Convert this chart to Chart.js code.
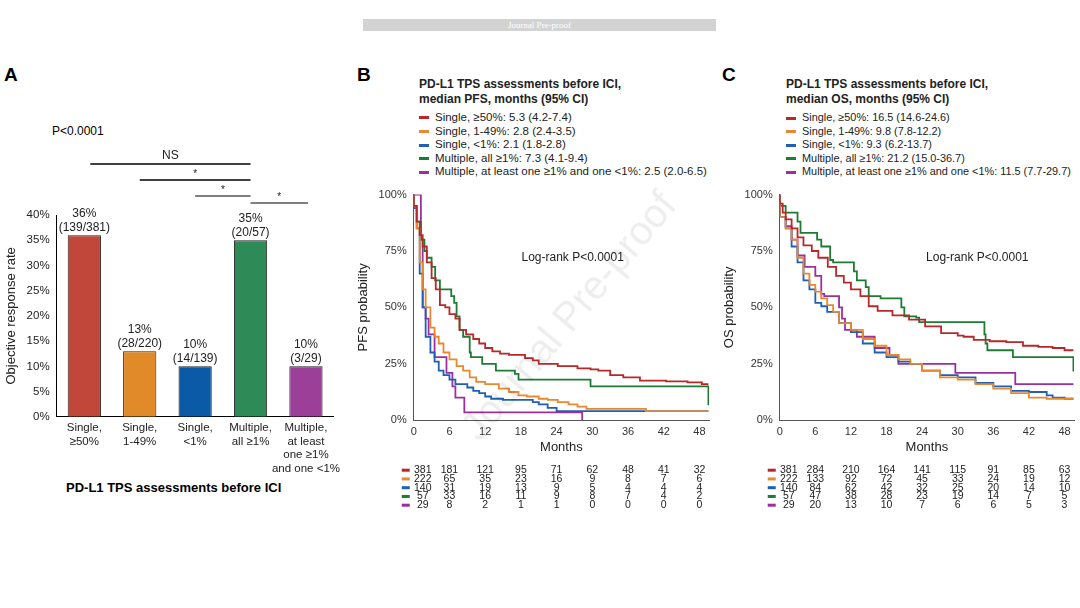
<!DOCTYPE html>
<html>
<head>
<meta charset="utf-8">
<script src="https://cdn.jsdelivr.net/npm/chart.js@4.4.1/dist/chart.umd.min.js"></script>
<style>
  body { margin: 0; width: 1080px; height: 608px; background: #fff; font-family: "Liberation Sans", Arial, sans-serif; position: relative; overflow: hidden; }
  .abs { position: absolute; }
  .panel { font-weight: bold; font-size: 19px; }
  .leg { font-size: 11.5px; color: #222; line-height: 13.6px; white-space: nowrap; }
  .leg b { font-size: 12px; line-height: 15px; display: block; margin-bottom: 4px; }
  .sw { display: inline-block; width: 10px; height: 3px; margin-right: 6px; vertical-align: middle; }
</style>
</head>
<body>
<div class="abs" style="left:363px;top:19px;width:353px;height:12px;background:#d3d3d3;color:#fff;font-size:9px;text-align:center;line-height:12px;font-family:'Liberation Serif',serif;">Journal Pre-proof</div>
<div class="abs panel" style="left:4px;top:64px;">A</div>
<div class="abs panel" style="left:357px;top:64px;">B</div>
<div class="abs panel" style="left:722px;top:64px;">C</div>
<div class="abs" style="left:52px;top:124px;font-size:12px;">P&lt;0.0001</div>
<div class="abs" style="left:66px;top:480px;font-size:13px;font-weight:bold;">PD-L1 TPS assessments before ICI</div>

<div class="abs" style="left:0;top:140px;width:345px;height:340px;"><canvas id="barChart"></canvas></div>
<div class="abs" style="left:352px;top:185px;width:363px;height:335px;"><canvas id="pfsChart"></canvas></div>
<div class="abs" style="left:718px;top:185px;width:362px;height:335px;"><canvas id="osChart"></canvas></div>

<div class="abs" style="left:452px;top:420px;font-size:40px;color:rgba(0,0,0,0.07);transform:rotate(-50deg);transform-origin:left top;white-space:nowrap;">Journal Pre-proof</div>

<div class="abs leg" style="left:419px;top:77px;" id="legB"></div>
<div class="abs leg" style="left:786px;top:77px;font-size:10.9px;" id="legC"></div>

<script>
// ---- data ----
const barLabels = [["Single,", "≥50%"], ["Single,", "1-49%"], ["Single,", "<1%"], ["Multiple,", "all ≥1%"], ["Multiple,", "at least", "one ≥1%", "and one <1%"]];
const orrValues = [36, 13, 10, 35, 10];
const orrCounts = ["(139/381)", "(28/220)", "(14/139)", "(20/57)", "(3/29)"];
const barColors = ["#c0473a", "#e08a2a", "#0a5aa8", "#2e8b57", "#9b3f98"];
const lineColors = ["#b8282a", "#e8892f", "#1f5fb5", "#1e7b34", "#9a2f9e"];

const groupNames = ["Single, ≥50%", "Single, 1-49%", "Single, <1%", "Multiple, all ≥1%", "Multiple, at least one ≥1% and one <1%"];
const pfsMedians = ["5.3 (4.2-7.4)", "2.8 (2.4-3.5)", "2.1 (1.8-2.8)", "7.3 (4.1-9.4)", "2.5 (2.0-6.5)"];
const osMedians = ["16.5 (14.6-24.6)", "9.8 (7.8-12.2)", "9.3 (6.2-13.7)", "21.2 (15.0-36.7)", "11.5 (7.7-29.7)"];

const riskMonths = [0, 6, 12, 18, 24, 30, 36, 42, 48];
const pfsRisk = [
  [381, 181, 121, 95, 71, 62, 48, 41, 32],
  [222, 65, 35, 23, 16, 9, 8, 7, 6],
  [140, 31, 19, 13, 9, 5, 4, 4, 4],
  [57, 33, 16, 11, 9, 8, 7, 4, 2],
  [29, 8, 2, 1, 1, 0, 0, 0, 0]
];
const osRisk = [
  [381, 284, 210, 164, 141, 115, 91, 85, 63],
  [222, 133, 92, 72, 45, 33, 24, 19, 12],
  [140, 84, 62, 42, 32, 25, 20, 14, 10],
  [57, 47, 38, 28, 23, 19, 14, 7, 5],
  [29, 20, 13, 10, 7, 6, 6, 5, 3]
];

// KM curves: [month, survival %]
const pfsRed = [[0,100],[0.5,95],[1,88],[1.5,82],[2.2,77],[3,70],[3.7,63],[4.4,58],[5.3,51],[6,50],[7,47],[7.7,45],[8.8,40],[10,38],[11,36],[12,34],[13.2,32],[14.5,30.5],[16,29.5],[18.7,29],[20,27.5],[21,26.5],[24.2,25],[27.5,24],[29.7,23],[31,22.5],[33,22],[35.2,20],[38,19],[42.4,17.5],[46,17.2],[48.4,16.8],[49.5,16]];
const pfsOrange = [[0,100],[0.5,95],[1,85],[1.5,70],[2,58],[2.8,50],[3.5,41],[4.2,37],[5,34],[6,30],[7.2,27],[8.3,24],[9.4,22],[10.5,19],[12,17],[14.3,16],[16,14],[17.6,12.5],[19,11],[21,10.5],[22.5,9.5],[24.2,9],[26,8],[27.5,7],[29,6],[30.8,5],[39,5],[40,4],[49.5,4]];
const pfsBlue = [[0,100],[0.5,94],[1,85],[1.5,65],[2,50],[2.8,37],[3.5,30],[4.2,26],[5,22],[6,20],[7,18],[9,16],[10,14.5],[11,13],[12,12],[13,10.5],[15,9.5],[18,9],[20,9],[21,8],[22.5,7],[24,5.5],[27,4],[49.5,4]];
const pfsGreen = [[0,100],[0.5,95],[1.2,88],[1.8,80],[2.2,75],[3,72],[3.6,68],[4.4,62],[4.6,58],[6.3,58],[6.8,55],[7.2,52],[7.7,46],[8.3,40],[9.4,37],[9.6,30],[11.5,28],[13.8,25],[17,22],[17.6,20.5],[29.7,18],[37.2,15],[49.5,15],[49.6,7]];
const pfsPurple = [[0,100],[1.2,100],[1.5,80],[2,50],[2.5,45],[3.5,38],[5.5,28],[6.5,21],[7,15],[8.5,10],[12.1,3.5],[28.3,3.5],[28.4,0]];

const osRed = [[0,100],[0.5,96],[1,92],[2,89],[3,85],[4,81],[5.4,77.5],[6.5,75],[8.1,72],[9.5,68],[10.8,64],[12,61],[13.6,58],[15,55],[16.5,50.5],[19,48.5],[21.8,46.5],[24.5,44.6],[27.2,41.6],[30,38.6],[31,37.5],[32.7,37],[35.4,35.6],[38.2,35],[41,34.6],[43.6,33],[46,32.5],[48,32],[49.5,31]];
const osOrange = [[0,100],[1,90],[2,85],[3,80],[4,72],[5,65],[6,60],[7,57],[8,54],[9,51],[10,48],[12,43],[14,40],[16,36],[18,33],[20,29],[22,27],[24,25],[27,22],[30,19],[33,18],[36,16],[39,14],[42,12],[45,10],[48,9.5],[49.5,9.5]];
const osBlue = [[0,100],[1,90],[2,85],[3,77],[4,70],[5,62],[6,58],[7,52],[8,50.5],[10,48],[12,43],[14,39],[16,34],[18,30],[20,28],[22,26],[24,25],[27,22],[30,20],[33,19],[36,16.5],[39,15],[42,13],[45,12.5],[46,11],[48,10],[49.5,9.5]];
const osGreen = [[0,100],[1,95],[1.5,92],[3,92],[3.5,88],[4.3,83],[6.3,83],[7,80],[8.5,77],[9,71],[12.5,70],[13,66],[14.5,62],[15,59],[17,55],[18,54],[20.5,54],[21,50],[23,46],[23.5,45.5],[27.5,43.5],[34.5,43.5],[34.7,38],[35,34],[35.5,31],[39.3,31],[39.5,28],[49.5,28],[49.6,22]];
const osPurple = [[0,100],[1,90],[2,86],[3,80],[4.2,73],[6,68],[7,64],[7.5,56],[10,55],[10.5,50],[11,45],[13,40],[16,37],[18.5,32],[20,29],[29.6,25],[39.7,21],[46.2,16],[49.5,16]];

const pfsCurves = [pfsRed, pfsOrange, pfsBlue, pfsGreen, pfsPurple];
const osCurves = [osRed, osOrange, osBlue, osGreen, osPurple];

const FONT = "'Liberation Sans', Arial, sans-serif";
Chart.defaults.font.family = FONT;
Chart.defaults.color = "#222";

// ---- legends ----
function buildLegend(id, title, medians) {
  let html = "<b>" + title + "</b>";
  groupNames.forEach((g, i) => {
    html += '<div><span class="sw" style="background:' + lineColors[i] + '"></span>' + g + ": " + medians[i] + "</div>";
  });
  document.getElementById(id).innerHTML = html;
}
buildLegend("legB", "PD-L1 TPS assessments before ICI,<br>median PFS, months (95% CI)", pfsMedians);
buildLegend("legC", "PD-L1 TPS assessments before ICI,<br>median OS, months (95% CI)", osMedians);

// ---- panel A ----
const barAnnot = {
  id: "barAnnot",
  afterDatasetsDraw(chart) {
    const ctx = chart.ctx, x = chart.scales.x, y = chart.scales.y;
    ctx.save();
    ctx.fillStyle = "#222";
    ctx.font = "12px " + FONT;
    ctx.textAlign = "center";
    orrValues.forEach((v, i) => {
      const px = x.getPixelForValue(i), py = y.getPixelForValue(v);
      ctx.fillText(v + "%", px, py - 18);
      ctx.fillText(orrCounts[i], px, py - 4);
    });
    // significance brackets: [from, to, offset above plot, label]
    const top = chart.chartArea.top;
    const brackets = [[0, 3, -51, "NS", 1.5], [1, 3, -35, "*", 1.5], [2, 3, -19, "*", 1.2], [3, 4, -12, "*", 1.2]];
    ctx.strokeStyle = "#000";
    brackets.forEach(([a, b, dy, lab, lw]) => {
      const xa = x.getPixelForValue(a) + (a === 0 ? 6 : 0);
      const xb = x.getPixelForValue(b) + (b === 4 ? 2 : 0);
      ctx.lineWidth = lw;
      ctx.beginPath(); ctx.moveTo(xa, top + dy); ctx.lineTo(xb, top + dy); ctx.stroke();
      ctx.font = (lab === "NS" ? "12px " : "10px ") + FONT;
      ctx.fillText(lab, (xa + xb) / 2, top + dy - (lab === "NS" ? 5 : 3));
    });
    ctx.restore();
  }
};

new Chart(document.getElementById("barChart"), {
  type: "bar",
  data: {
    labels: barLabels,
    datasets: [{ data: orrValues, backgroundColor: barColors, borderColor: "#222", borderWidth: 1, barPercentage: 0.6, categoryPercentage: 1 }]
  },
  options: {
    responsive: true, maintainAspectRatio: false, animation: false,
    layout: { padding: { top: 75, right: 10, left: 0 } },
    plugins: { legend: { display: false }, tooltip: { enabled: false } },
    scales: {
      x: { grid: { display: false, drawTicks: false }, border: { color: "#000" }, ticks: { font: { size: 11.5 }, color: "#222", maxRotation: 0, autoSkip: false, padding: 4 } },
      y: {
        min: 0, max: 40, grid: { display: false, tickLength: 4 }, border: { color: "#000" },
        ticks: { stepSize: 5, font: { size: 11.5 }, color: "#222", callback: v => v + "%" },
        title: { display: true, text: "Objective response rate", font: { size: 13 }, color: "#222" }
      }
    }
  },
  plugins: [barAnnot]
});

// ---- panels B and C ----
function riskPlugin(risk, logX) {
  return {
    id: "risk",
    afterDraw(chart) {
      const ctx = chart.ctx, x = chart.scales.x;
      ctx.save();
      ctx.font = "10.5px " + FONT;
      ctx.fillStyle = "#222";
      ctx.textAlign = "center";
      ctx.textBaseline = "middle";
      const y0 = chart.chartArea.bottom + 50;
      risk.forEach((row, r) => {
        const yy = y0 + r * 8.75;
        ctx.fillStyle = lineColors[r];
        ctx.fillRect(x.getPixelForValue(0) - 12, yy - 1.5, 8, 3);
        ctx.fillStyle = "#222";
        row.forEach((n, c) => {
          const px = x.getPixelForValue(riskMonths[c]) + (c === 0 ? 9 : 0);
          ctx.fillText(String(n), px, yy);
        });
      });
      ctx.font = "12px " + FONT;
      ctx.fillText("Log-rank P<0.0001", x.getPixelForValue(logX), chart.scales.y.getPixelForValue(72));
      ctx.restore();
    }
  };
}

function kmChart(id, curves, risk, yTitle, logX) {
  new Chart(document.getElementById(id), {
    type: "line",
    data: {
      datasets: curves.map((c, i) => ({
        data: c.map(p => ({ x: p[0], y: p[1] })),
        borderColor: lineColors[i], borderWidth: 1.8, stepped: "after", pointRadius: 0, fill: false
      }))
    },
    options: {
      responsive: true, maintainAspectRatio: false, animation: false,
      layout: { padding: { top: 8, right: 6, bottom: 65 } },
      plugins: { legend: { display: false }, tooltip: { enabled: false } },
      scales: {
        x: {
          type: "linear", min: 0, max: 49.6,
          grid: { display: false, tickLength: 4 }, border: { color: "#555" },
          ticks: { stepSize: 6, autoSkip: false, font: { size: 11 }, color: "#333", padding: 1 },
          afterBuildTicks: ax => { ax.ticks = riskMonths.map(v => ({ value: v })); },
          title: { display: true, text: "Months", font: { size: 13 }, color: "#222", padding: 0 }
        },
        y: {
          min: 0, max: 100,
          grid: { display: false, tickLength: 4 }, border: { color: "#555" },
          ticks: { stepSize: 25, font: { size: 11 }, color: "#333", callback: v => v + "%" },
          title: { display: true, text: yTitle, font: { size: 13 }, color: "#222" }
        }
      }
    },
    plugins: [riskPlugin(risk, logX)]
  });
}
kmChart("pfsChart", pfsCurves, pfsRisk, "PFS probability", 26.7);
kmChart("osChart", osCurves, osRisk, "OS probability", 33.3);
</script>
</body>
</html>
